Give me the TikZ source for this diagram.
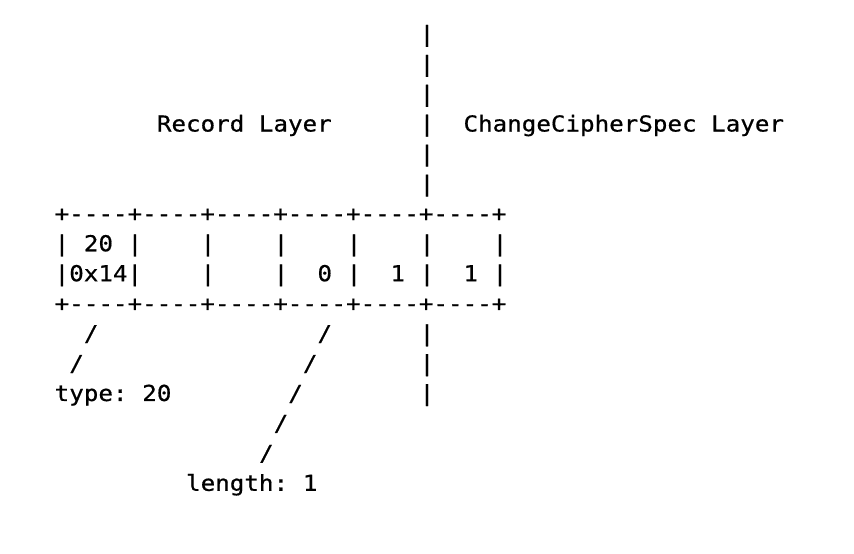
\documentclass[tikz,border=0pt]{standalone}
\usepackage{fontspec}
\newfontfamily\asciifont[FakeStretch=1.1,FakeBold=0.6]{DejaVu Sans Mono}
\tikzset{asc/.style={anchor=base west, inner sep=0pt, outer sep=0pt,
  font=\asciifont\fontsize{22}{26}\selectfont, text=black}}
\newcommand\putch[4]{\node[asc] (#1) at ({54.7+#2*14.6}, {-(41.7+#3*29.94)}) {#4};}
\begin{document}
\begin{tikzpicture}[x=1pt,y=1pt]
\useasboundingbox[fill=white] (0,0) rectangle (854,-554);
% divider above the table
\putch{v0}{25}{0}{|}
\putch{v1}{25}{1}{|}
\putch{v2}{25}{2}{|}
\putch{rec}{7}{3}{Record Layer}
\putch{v3}{25}{3}{|}
\putch{ccs}{28}{3}{ChangeCipherSpec Layer}
\putch{v4}{25}{4}{|}
\putch{v5}{25}{5}{|}
% table
\putch{top}{0}{6}{+----+----+----+----+----+----+}
\putch{a0}{0}{7}{|}
\putch{a1}{2}{7}{20}
\putch{a2}{5}{7}{|}
\putch{a3}{10}{7}{|}
\putch{a4}{15}{7}{|}
\putch{a5}{20}{7}{|}
\putch{a6}{25}{7}{|}
\putch{a7}{30}{7}{|}
\putch{b0}{0}{8}{|0x14|}
\putch{b1}{10}{8}{|}
\putch{b2}{15}{8}{|}
\putch{b3}{18}{8}{0}
\putch{b4}{20}{8}{|}
\putch{b5}{23}{8}{1}
\putch{b6}{25}{8}{|}
\putch{b7}{28}{8}{1}
\putch{b8}{30}{8}{|}
\putch{bot}{0}{9}{+----+----+----+----+----+----+}
% below the table
\putch{s1}{2}{10}{/}
\putch{s2}{18}{10}{/}
\putch{v10}{25}{10}{|}
\putch{s3}{1}{11}{/}
\putch{s4}{17}{11}{/}
\putch{v11}{25}{11}{|}
\putch{t1}{0}{12}{type:}
\putch{t2}{6}{12}{20}
\putch{s5}{16}{12}{/}
\putch{v12}{25}{12}{|}
\putch{s6}{15}{13}{/}
\putch{s7}{14}{14}{/}
\putch{l1}{9}{15}{length:}
\putch{l2}{17}{15}{1}
\end{tikzpicture}
\end{document}
